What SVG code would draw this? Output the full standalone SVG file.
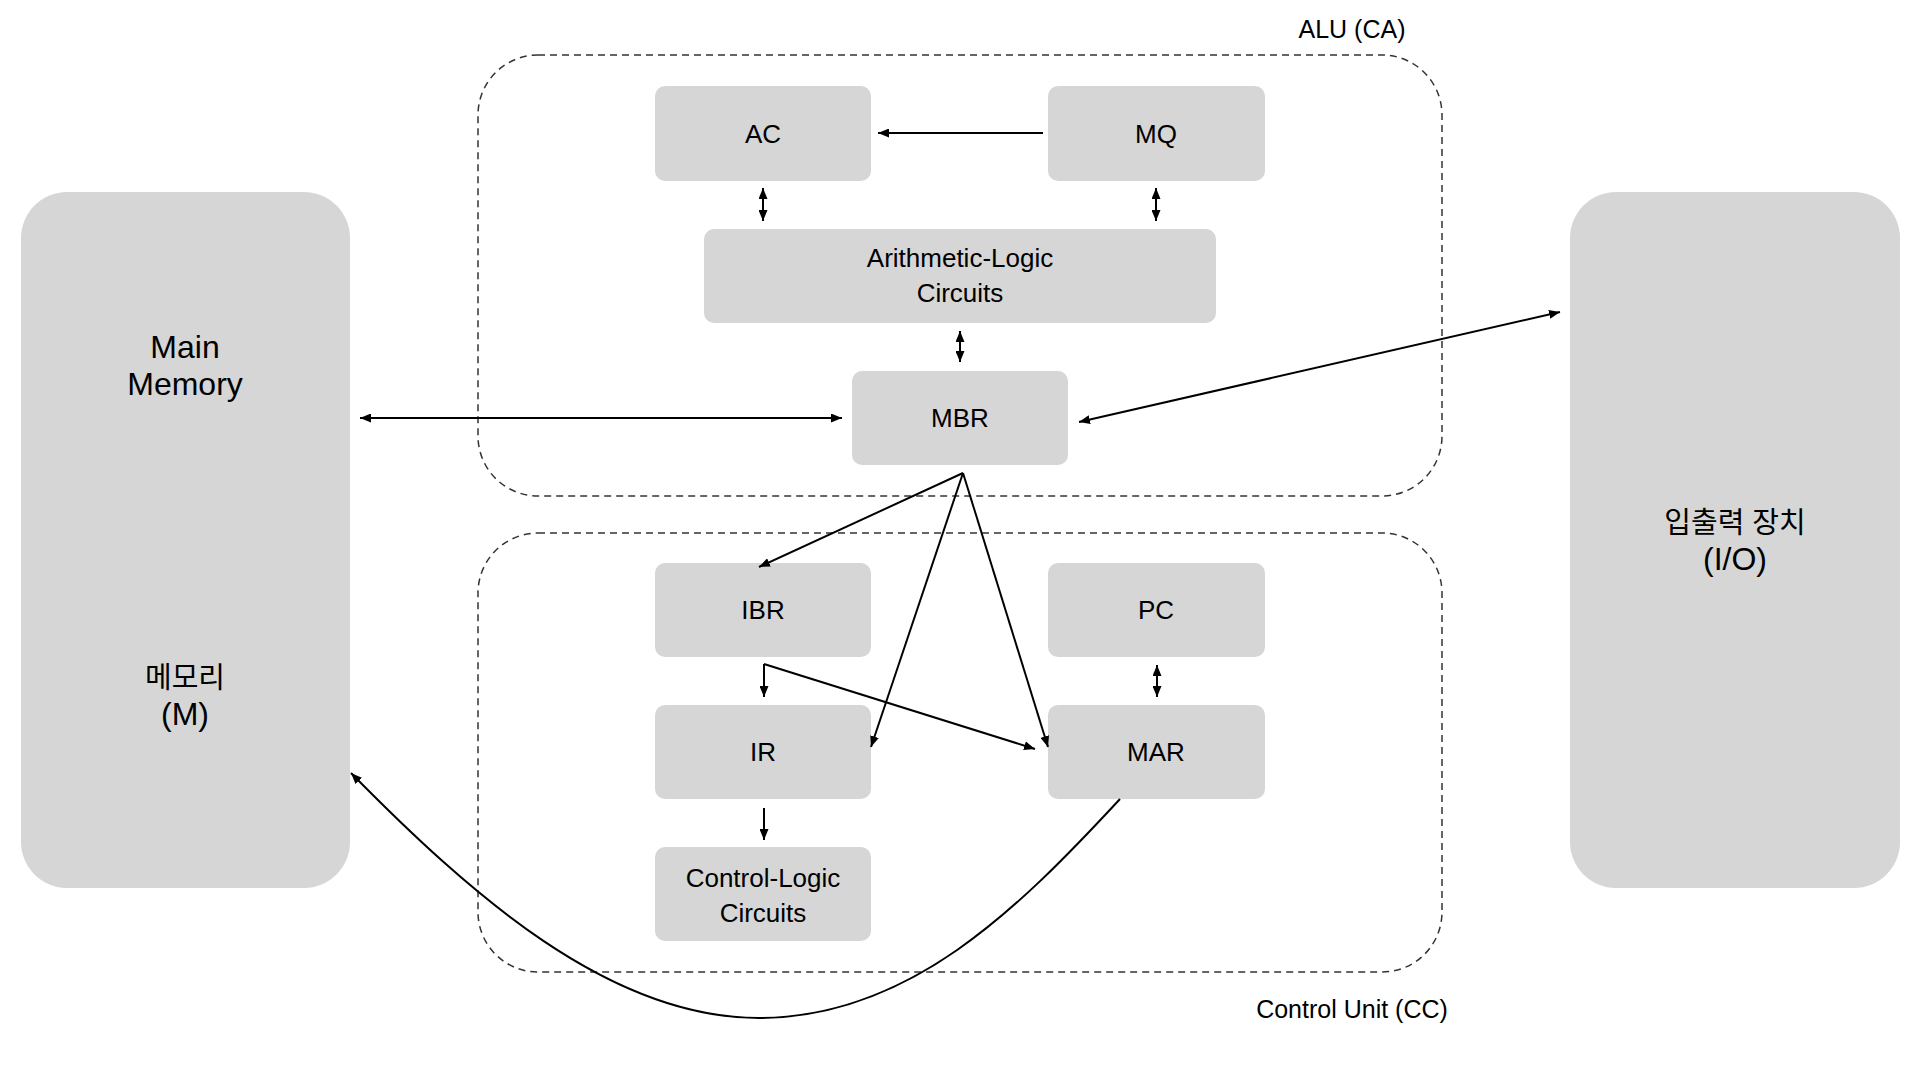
<svg xmlns="http://www.w3.org/2000/svg" width="1920" height="1080" viewBox="0 0 1920 1080">
  <defs>
    <style>
      .big { fill: #d6d6d6; }
      .reg { fill: #d6d6d6; }
      .zone { fill: none; stroke: #333; stroke-width: 1.5; stroke-dasharray: 7 5; }
      .t { font-family: "Liberation Sans", "Noto Sans CJK KR", Arial, sans-serif; fill: #000; text-anchor: middle; }
      .tn { font-size: 26px; }
      .tb { font-size: 32px; }
      .tk { font-size: 29px; }
      .tl { font-size: 25px; }
      .c { fill: none; stroke: #000; stroke-width: 2; }
    </style>
    <marker id="ah" viewBox="0 0 11 9" refX="11" refY="4.5" markerWidth="11" markerHeight="9" markerUnits="userSpaceOnUse" orient="auto-start-reverse">
      <path d="M0,0 L11,4.5 L0,9 z" fill="#000"/>
    </marker>
  </defs>
  <rect width="1920" height="1080" fill="#fff"/>

  <g id="zone-alu">
    <rect class="zone" x="478" y="55" width="964" height="441" rx="60" ry="60"/>
    <text class="t tl" x="1352" y="38">ALU (CA)</text>
  </g>
  <g id="zone-cc">
    <rect class="zone" x="478" y="533" width="964" height="439" rx="60" ry="60"/>
    <text class="t tl" x="1352" y="1018">Control Unit (CC)</text>
  </g>

  <g id="memory">
    <rect class="big" x="21" y="192" width="329" height="696" rx="46" ry="46"/>
    <text class="t tb" x="185" y="358">Main</text>
    <text class="t tb" x="185" y="395">Memory</text>
    <text class="t tk" x="185" y="688">메모리</text>
    <text class="t tb" x="185" y="725">(M)</text>
  </g>
  <g id="io">
    <rect class="big" x="1570" y="192" width="330" height="696" rx="46" ry="46"/>
    <text class="t tk" x="1735" y="533">입출력 장치</text>
    <text class="t tb" x="1735" y="570">(I/O)</text>
  </g>

  <g id="ac">
    <rect class="reg" x="655" y="86" width="216" height="95" rx="10"/>
    <text class="t tn" x="763" y="143">AC</text>
  </g>
  <g id="mq">
    <rect class="reg" x="1048" y="86" width="217" height="95" rx="10"/>
    <text class="t tn" x="1156" y="143">MQ</text>
  </g>
  <g id="alc">
    <rect class="reg" x="704" y="229" width="512" height="94" rx="10"/>
    <text class="t tn" x="960" y="267">Arithmetic-Logic</text>
    <text class="t tn" x="960" y="302">Circuits</text>
  </g>
  <g id="mbr">
    <rect class="reg" x="852" y="371" width="216" height="94" rx="10"/>
    <text class="t tn" x="960" y="427">MBR</text>
  </g>
  <g id="ibr">
    <rect class="reg" x="655" y="563" width="216" height="94" rx="10"/>
    <text class="t tn" x="763" y="619">IBR</text>
  </g>
  <g id="pc">
    <rect class="reg" x="1048" y="563" width="217" height="94" rx="10"/>
    <text class="t tn" x="1156" y="619">PC</text>
  </g>
  <g id="ir">
    <rect class="reg" x="655" y="705" width="216" height="94" rx="10"/>
    <text class="t tn" x="763" y="761">IR</text>
  </g>
  <g id="mar">
    <rect class="reg" x="1048" y="705" width="217" height="94" rx="10"/>
    <text class="t tn" x="1156" y="761">MAR</text>
  </g>
  <g id="clc">
    <rect class="reg" x="655" y="847" width="216" height="94" rx="10"/>
    <text class="t tn" x="763" y="887">Control-Logic</text>
    <text class="t tn" x="763" y="922">Circuits</text>
  </g>

  <g id="connectors">
    <line class="c" x1="1043" y1="133" x2="878" y2="133" marker-end="url(#ah)"/>
    <line class="c" x1="763" y1="188" x2="763" y2="221" marker-start="url(#ah)" marker-end="url(#ah)"/>
    <line class="c" x1="1156" y1="188" x2="1156" y2="221" marker-start="url(#ah)" marker-end="url(#ah)"/>
    <line class="c" x1="960" y1="331" x2="960" y2="362" marker-start="url(#ah)" marker-end="url(#ah)"/>
    <line class="c" x1="360" y1="418" x2="842" y2="418" marker-start="url(#ah)" marker-end="url(#ah)"/>
    <line class="c" x1="1079" y1="422" x2="1560" y2="312" marker-start="url(#ah)" marker-end="url(#ah)"/>
    <line class="c" x1="963" y1="473" x2="759" y2="567" marker-end="url(#ah)"/>
    <line class="c" x1="963" y1="473" x2="871" y2="747" marker-end="url(#ah)"/>
    <line class="c" x1="963" y1="473" x2="1048" y2="747" marker-end="url(#ah)"/>
    <line class="c" x1="764" y1="664" x2="764" y2="697" marker-end="url(#ah)"/>
    <line class="c" x1="764" y1="664" x2="1035" y2="749" marker-end="url(#ah)"/>
    <line class="c" x1="1157" y1="665" x2="1157" y2="697" marker-start="url(#ah)" marker-end="url(#ah)"/>
    <line class="c" x1="764" y1="808" x2="764" y2="840" marker-end="url(#ah)"/>
    <path class="c" d="M1120,799 C1018,909 909,1018 759,1018 C609,1018 470,894 351,773" marker-end="url(#ah)"/>
  </g>
</svg>
